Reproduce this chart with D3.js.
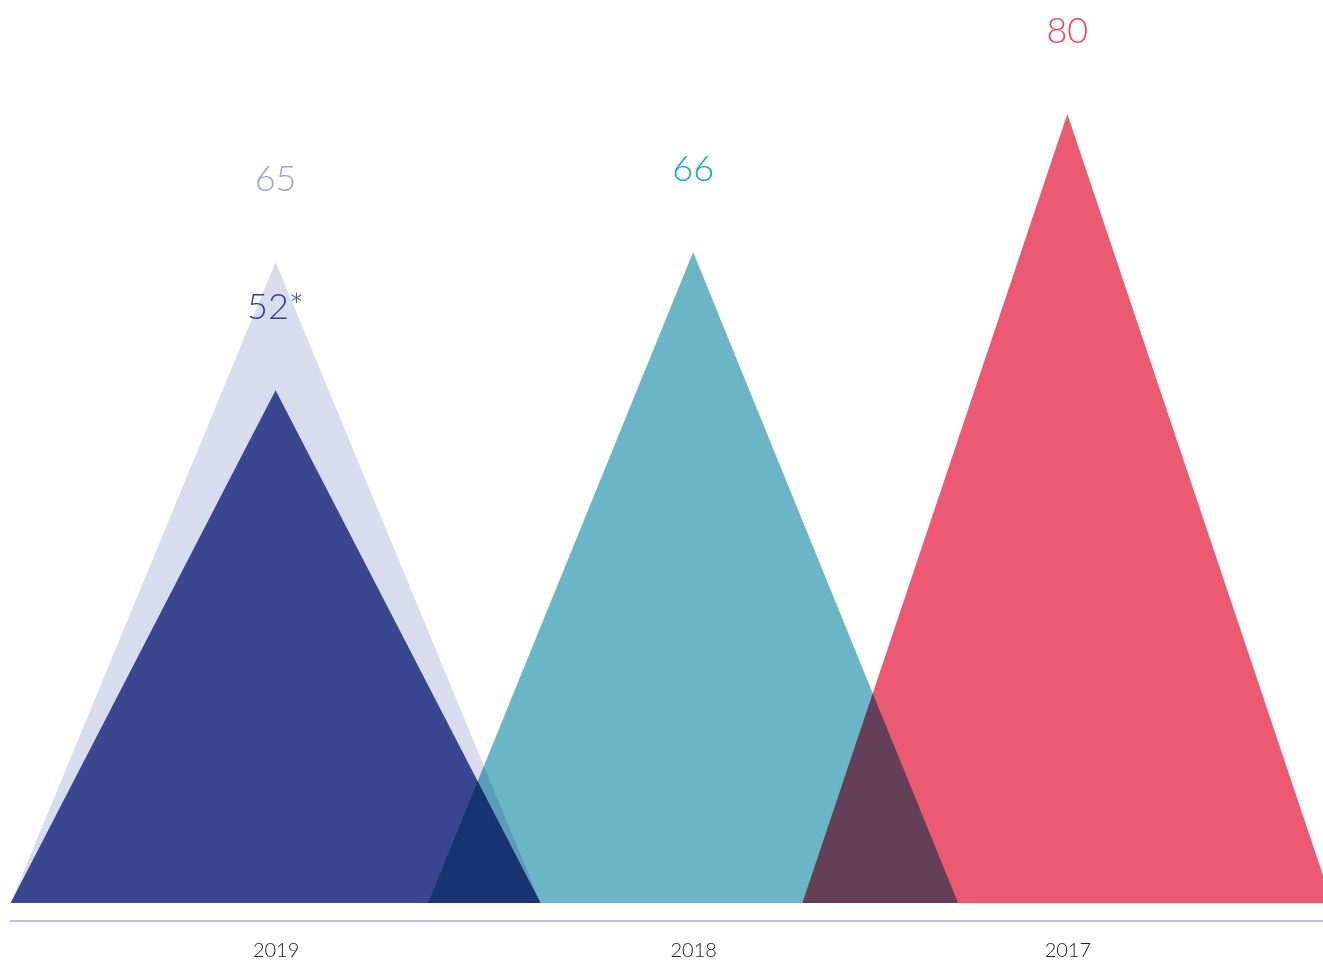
<!DOCTYPE html>
<html>
<head>
<meta charset="utf-8">
<script src="https://cdn.jsdelivr.net/npm/d3@7"></script>
<style>
  html, body { margin: 0; padding: 0; background: #fff; }
  svg { display: block; }
  text { font-family: "Lato", "Open Sans", sans-serif; font-weight: 300; }
</style>
</head>
<body>
<svg id="chart" width="1323" height="961"></svg>
<script>
// data
var years = ["2019", "2018", "2017"];
var yearPos = [0.2, 0.518, 0.803];        // share of width for each year centre
var series = ["2019 total", "2019 comparable", "2018", "2017"];
var seriesYear = ["2019", "2019", "2018", "2017"];
var values = [65, 52, 66, 80];
var labels = ["65", "52*", "66", "80"];
var fills = ["#d9dcec", "#394791", "#6bb6c6", "#eb5a70"];
var labelColors = ["#9ea5d0", "#2f3f92", "#17a5b8", "#e9445f"];
var blend = ["normal", "normal", "multiply", "multiply"];

var svg = d3.select("#chart"),
    margin = { top: 114, right: 0, bottom: 58, left: 10 },
    width = +svg.attr("width") - margin.left - margin.right,
    height = +svg.attr("height") - margin.top - margin.bottom;

var x = d3.scaleOrdinal()
    .domain(years)
    .range(yearPos.map(p => margin.left + p * width + 3));

var y = d3.scaleLinear()
    .domain([0, d3.max(values)])
    .range([margin.top + height, margin.top]);

var halfBase = 265;

var data = series.map((s, i) => ({
    name: s, year: seriesYear[i], value: values[i], label: labels[i],
    fill: fills[i], color: labelColors[i], blend: blend[i]
}));

var tri = d3.line();

var g = svg.append("g");

// triangles
g.selectAll("path.tri")
    .data(data)
    .enter()
    .append("path")
    .attr("class", "tri")
    .style("mix-blend-mode", d => d.blend)
    .attr("fill", d => d.fill)
    .attr("d", d => tri([
        [x(d.year) - halfBase, y(0)],
        [x(d.year), y(d.value)],
        [x(d.year) + halfBase, y(0)]
    ]) + "Z");

// value labels
g.selectAll("text.val")
    .data(data)
    .enter()
    .append("text")
    .attr("class", "val")
    .attr("x", d => x(d.year))
    .attr("y", d => y(d.value) - 71)
    .attr("text-anchor", "middle")
    .attr("font-size", 36)
    .attr("fill", d => d.color)
    .text(d => d.label);

// axis along the bottom
var axis = d3.axisBottom(x).tickSize(0).tickPadding(22);
var axisG = svg.append("g")
    .attr("transform", "translate(0," + (y(0) + 18) + ")")
    .call(axis);
axisG.select(".domain")
    .attr("d", "M" + margin.left + ",0H" + (margin.left + width))
    .attr("stroke", "#7d80bd")
    .attr("stroke-width", 1);
axisG.selectAll("text")
    .attr("font-family", "Lato, 'Open Sans', sans-serif")
    .attr("font-weight", 300)
    .attr("font-size", 20)
    .attr("fill", "#222");
</script>
</body>
</html>
